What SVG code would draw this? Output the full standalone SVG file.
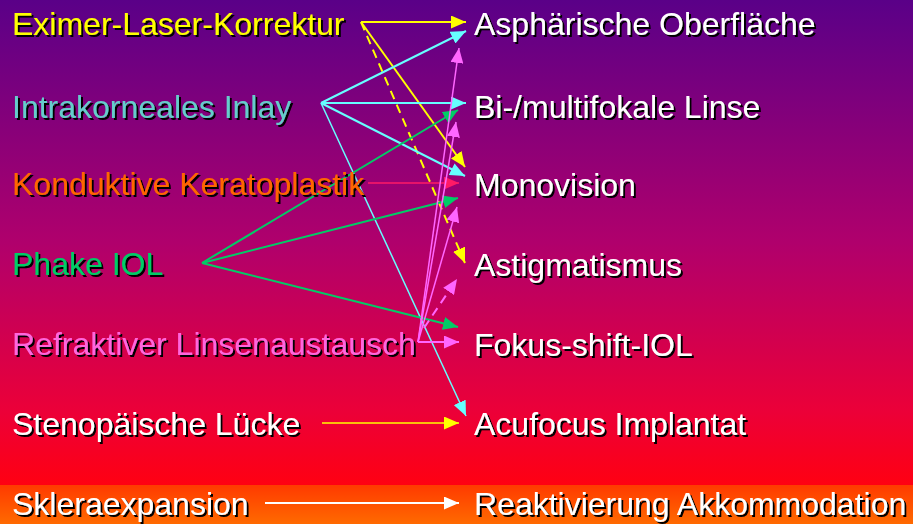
<svg xmlns="http://www.w3.org/2000/svg" width="913" height="524" viewBox="0 0 913 524">
<defs>
<linearGradient id="bg" x1="0" y1="0" x2="0" y2="485" gradientUnits="userSpaceOnUse">
<stop offset="0" stop-color="#5A0088"/>
<stop offset="0.5" stop-color="#B0006C"/>
<stop offset="0.85" stop-color="#EC0038"/>
<stop offset="1" stop-color="#FF0012"/>
</linearGradient>
<linearGradient id="band" x1="0" y1="485" x2="0" y2="524" gradientUnits="userSpaceOnUse">
<stop offset="0" stop-color="#FF3A00"/>
<stop offset="1" stop-color="#FF6A00"/>
</linearGradient>
<filter id="sh" x="-5%" y="-20%" width="115%" height="150%">
<feDropShadow dx="2" dy="2" stdDeviation="0" flood-color="#000" flood-opacity="1"/>
</filter>
<marker id="aY" viewBox="0 0 15 13" refX="15" refY="6.5" markerWidth="15" markerHeight="13" markerUnits="userSpaceOnUse" orient="auto"><path d="M0,0 L15,6.5 L0,13 Z" fill="#FFFF00"/></marker>
<marker id="aC" viewBox="0 0 15 13" refX="15" refY="6.5" markerWidth="15" markerHeight="13" markerUnits="userSpaceOnUse" orient="auto"><path d="M0,0 L15,6.5 L0,13 Z" fill="#66FFFF"/></marker>
<marker id="aG" viewBox="0 0 15 13" refX="15" refY="6.5" markerWidth="15" markerHeight="13" markerUnits="userSpaceOnUse" orient="auto"><path d="M0,0 L15,6.5 L0,13 Z" fill="#00CC66"/></marker>
<marker id="aP" viewBox="0 0 15 13" refX="15" refY="6.5" markerWidth="15" markerHeight="13" markerUnits="userSpaceOnUse" orient="auto"><path d="M0,0 L15,6.5 L0,13 Z" fill="#FF66FF"/></marker>
<marker id="aR" viewBox="0 0 15 13" refX="15" refY="6.5" markerWidth="15" markerHeight="13" markerUnits="userSpaceOnUse" orient="auto"><path d="M0,0 L15,6.5 L0,13 Z" fill="#FF1A66"/></marker>
<marker id="aW" viewBox="0 0 15 13" refX="15" refY="6.5" markerWidth="15" markerHeight="13" markerUnits="userSpaceOnUse" orient="auto"><path d="M0,0 L15,6.5 L0,13 Z" fill="#FFFFFF"/></marker>
</defs>
<style>
text{font-family:"Liberation Sans",Arial,sans-serif;font-size:32px;filter:url(#sh)}
.w{fill:#FFFFFF}
line{fill:none;stroke-width:2}
.y{stroke:#FFFF00;marker-end:url(#aY)}
.c{stroke:#66FFFF;marker-end:url(#aC)}
.g{stroke:#00CC66;marker-end:url(#aG)}
.p{stroke:#FF66FF;marker-end:url(#aP)}
.r{stroke:#FF1A66;marker-end:url(#aR)}
.wl{stroke:#FFFFFF;marker-end:url(#aW)}
.t{stroke-width:1.5}
.d{stroke-dasharray:9,6}
</style>
<rect x="0" y="0" width="913" height="485" fill="url(#bg)"/>
<rect x="0" y="485" width="913" height="39" fill="url(#band)"/>

<g id="connectors">
<line class="y" x1="361" y1="22" x2="466" y2="22"/>
<line class="y" x1="361" y1="22" x2="465" y2="167"/>
<line class="y d" x1="361" y1="22" x2="465" y2="263"/>
<line class="c" x1="321" y1="103" x2="466" y2="31"/>
<line class="c" x1="321" y1="103" x2="466" y2="103"/>
<line class="c" x1="321" y1="103" x2="465" y2="176"/>
<line class="c t" x1="321" y1="103" x2="466" y2="416"/>
<line class="r t" x1="368" y1="183" x2="459" y2="183"/>
<line class="g" x1="202" y1="263" x2="458" y2="110"/>
<line class="g" x1="202" y1="263" x2="458" y2="198"/>
<line class="g" x1="202" y1="263" x2="458" y2="327"/>
<line class="p" x1="418" y1="342" x2="459" y2="342"/>
<line class="p t" x1="418" y1="342" x2="459" y2="48"/>
<line class="p t" x1="418" y1="342" x2="456" y2="122"/>
<line class="p t" x1="418" y1="342" x2="457" y2="207"/>
<line class="p d" x1="424" y1="328" x2="457" y2="279"/>
<line class="y t" x1="322" y1="423" x2="459" y2="423"/>
<line class="wl" x1="265" y1="503" x2="459" y2="503"/>
</g>

<g id="eximer"><text x="12" y="35" fill="#FFFF00">Eximer-Laser-Korrektur</text></g>
<g id="inlay"><text x="12" y="118" fill="#66CCCC">Intrakorneales Inlay</text></g>
<g id="kk"><text x="12" y="195" fill="#FF6600">Konduktive Keratoplastik</text></g>
<g id="phake"><text x="12" y="275" fill="#00CC66">Phake IOL</text></g>
<g id="rla"><text x="12" y="355" fill="#FF66DD">Refraktiver Linsenaustausch</text></g>
<g id="steno"><text x="12" y="435" class="w">Stenopäische Lücke</text></g>
<g id="sklera"><text x="12" y="515" class="w">Skleraexpansion</text></g>

<g id="asph"><text x="474" y="35" class="w">Asphärische Oberfläche</text></g>
<g id="multi"><text x="474" y="118" class="w">Bi-/multifokale Linse</text></g>
<g id="mono"><text x="474" y="196" class="w">Monovision</text></g>
<g id="astig"><text x="474" y="276" class="w">Astigmatismus</text></g>
<g id="fokus"><text x="474" y="356" class="w">Fokus-shift-IOL</text></g>
<g id="acufocus"><text x="474" y="435" class="w">Acufocus Implantat</text></g>
<g id="reakt"><text x="474" y="515" class="w">Reaktivierung Akkommodation</text></g>
</svg>
